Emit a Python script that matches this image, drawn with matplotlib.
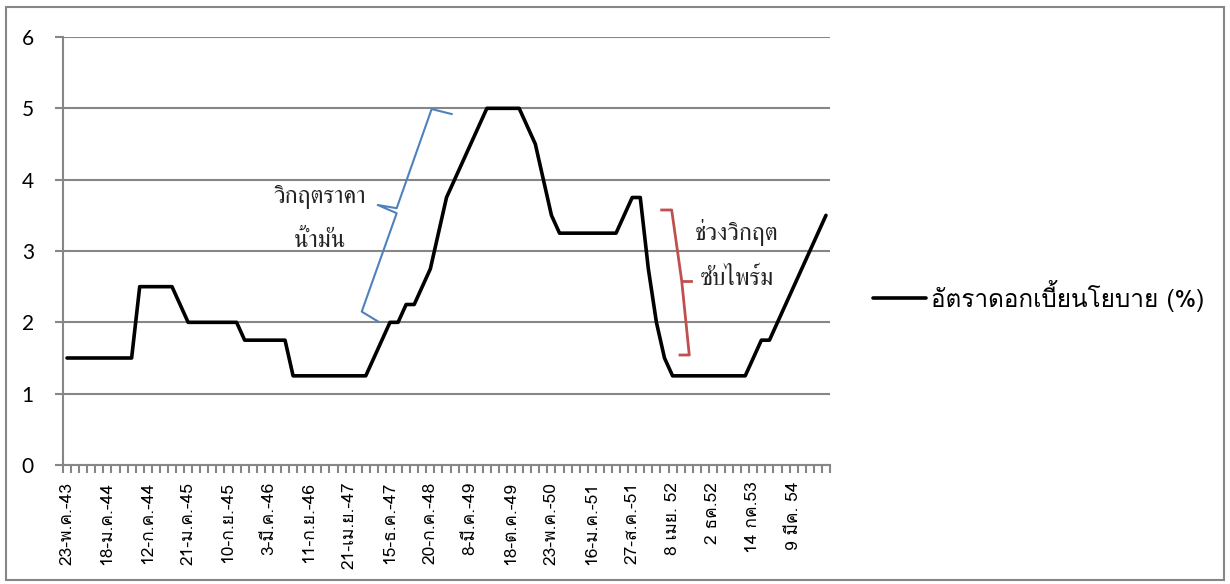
import matplotlib
matplotlib.use("Agg")
import matplotlib.pyplot as plt
from matplotlib.patches import Rectangle

# Policy interest rate (%) at each announcement, in order
policy_rate = [
    1.50, 1.50, 1.50, 1.50, 1.50, 1.50, 1.50, 1.50, 1.50,
    2.50, 2.50, 2.50, 2.50, 2.50,
    2.25,
    2.00, 2.00, 2.00, 2.00, 2.00, 2.00, 2.00,
    1.75, 1.75, 1.75, 1.75, 1.75, 1.75,
    1.25, 1.25, 1.25, 1.25, 1.25, 1.25, 1.25, 1.25, 1.25, 1.25,
    1.50, 1.75, 2.00, 2.00,
    2.25, 2.25, 2.50, 2.75, 3.25, 3.75,
    4.00, 4.25, 4.50, 4.75, 5.00, 5.00, 5.00, 5.00, 5.00,
    4.75, 4.50, 4.00, 3.50,
    3.25, 3.25, 3.25, 3.25, 3.25, 3.25, 3.25, 3.25,
    3.50, 3.75, 3.75,
    2.75, 2.00, 1.50,
    1.25, 1.25, 1.25, 1.25, 1.25, 1.25, 1.25, 1.25, 1.25, 1.25,
    1.50, 1.75, 1.75,
    2.00, 2.25, 2.50, 2.75, 3.00, 3.25, 3.50,
]

# Date labels shown on every fifth announcement
label_step = 5
date_labels = [
    "23-พ.ค.-43", "18-ม.ค.-44", "12-ก.ค.-44", "21-ม.ค.-45", "10-ก.ย.-45",
    "3-มี.ค.-46", "11-ก.ย.-46", "21-เม.ย.-47", "15-ธ.ค.-47", "20-ก.ค.-48",
    "8-มี.ค.-49", "18-ต.ค.-49", "23-พ.ค.-50", "16-ม.ค.-51", "27-ส.ค.-51",
    "8 เมย. 52", "2 ธค.52", "14 กค.53", "9 มีค. 54",
]

series_name = "อัตราดอกเบี้ยนโยบาย (%)"
oil_note = ["วิกฤตราคา", "น้ำมัน"]
subprime_note = ["ช่วงวิกฤต", "ซับไพร์ม"]

GRAY = "#868686"
BLUE = "#4F81BD"
RED = "#C0504D"
THAI_SANS = ["Loma", "Noto Sans Thai Looped", "DejaVu Sans"]
THAI_SERIF = ["FreeSerif", "Noto Serif Thai", "DejaVu Serif"]

W, H = 1230, 584
fig = plt.figure(figsize=(W / 100, H / 100), dpi=100)
ax = fig.add_axes([63 / W, (H - 465) / H, (830 - 63) / W, (465 - 37) / H])

n = len(policy_rate)
x = list(range(n))
line, = ax.plot(x, policy_rate, color="black", lw=2.6,
                solid_joinstyle="round", solid_capstyle="round",
                label=series_name, zorder=3)

ax.set_xlim(-0.5, n - 0.5)
ax.set_ylim(0, 6)

# y axis
ax.set_yticks(range(0, 7))
ax.set_yticklabels([str(v) for v in range(0, 7)],
                   fontfamily=["Lato", "DejaVu Sans"], fontsize=15)
ax.tick_params(axis="y", length=6, width=1.5, color=GRAY, pad=15,
               labelcolor="black")
ax.yaxis.grid(True, color=GRAY, lw=1.5)
ax.set_axisbelow(True)

# x axis: tick marks between categories, labels on every fifth category
ax.set_xticks([i * label_step for i in range(len(date_labels))])
ax.set_xticklabels(date_labels, rotation=90, va="top", ha="center",
                   fontfamily=THAI_SANS, fontsize=12.5)
ax.tick_params(axis="x", length=0, pad=12)
ax.set_xticks([i - 0.5 for i in range(n + 1)], minor=True)
ax.tick_params(axis="x", which="minor", length=5.5, width=1.5, color=GRAY)

for side in ("top", "right"):
    ax.spines[side].set_visible(False)
for side in ("left", "bottom"):
    ax.spines[side].set_color(GRAY)
    ax.spines[side].set_linewidth(1.5)

# Oil price crisis brace
brace_x = [47.64, 45.16, 40.83, 38.48, 40.83, 36.5, 38.55]
brace_y = [4.92, 4.99, 3.60, 3.645, 3.53, 2.15, 2.01]
ax.plot(brace_x, brace_y, color=BLUE, lw=1.5, solid_joinstyle="round",
        zorder=2)
ax.text(31.35, 3.67, oil_note[0], ha="center", va="baseline",
        fontfamily=THAI_SERIF, fontsize=17.5, color="#222222")
ax.text(31.35, 3.05, oil_note[1], ha="center", va="baseline",
        fontfamily=THAI_SERIF, fontsize=17.5, color="#222222")

# Subprime crisis bracket
bracket_x = [73.65, 74.89, 76.13, 77.07, 75.92]
bracket_y = [3.575, 3.575, 2.584, 1.542, 1.542]
ax.plot(bracket_x, bracket_y, color=RED, lw=2, zorder=2)
ax.plot([76.13, 77.28], [2.584, 2.584], color=RED, lw=2, zorder=2)
ax.text(83.0, 3.15, subprime_note[0], ha="center", va="baseline",
        fontfamily=THAI_SERIF, fontsize=17.5, color="#222222")
ax.text(83.0, 2.52, subprime_note[1], ha="center", va="baseline",
        fontfamily=THAI_SERIF, fontsize=17.5, color="#222222")

# Legend to the right of the plot
leg = fig.legend(handles=[line], loc="center left",
                 bbox_to_anchor=(873 / W, 1 - 296 / H),
                 frameon=False, borderpad=0, borderaxespad=0,
                 handlelength=2.2, handletextpad=0.17,
                 prop={"family": THAI_SANS, "size": 17.5})

# Chart border
fig.patches.append(Rectangle((6 / W, 4 / H), (W - 12) / W, (H - 11) / H,
                             transform=fig.transFigure, fill=False,
                             edgecolor=GRAY, lw=1.5))

fig.savefig("out.png", dpi=100, facecolor="white")
